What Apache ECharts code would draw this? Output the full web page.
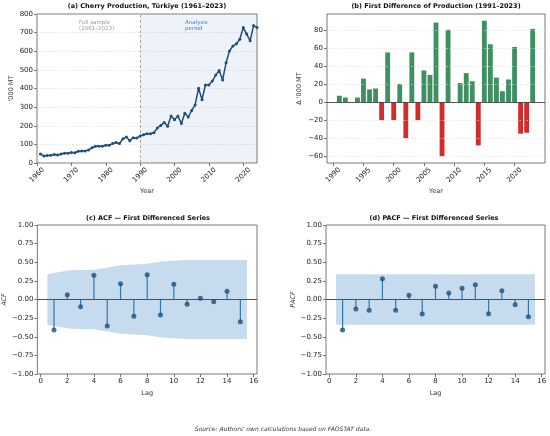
<!DOCTYPE html>
<html><head><meta charset="utf-8">
<script src="https://cdn.jsdelivr.net/npm/echarts@6/dist/echarts.min.js"></script>
<style>html,body{margin:0;padding:0;background:#fff}#c{width:550px;height:436px}</style>
</head><body><div id="c"></div><script>
// ---------- DATA ----------
const prodYears = [1961,1962,1963,1964,1965,1966,1967,1968,1969,1970,1971,1972,1973,1974,1975,1976,1977,1978,1979,1980,
  1981,1982,1983,1984,1985,1986,1987,1988,1989,1990,1991,1992,1993,1994,1995,1996,1997,1998,1999,2000,
  2001,2002,2003,2004,2005,2006,2007,2008,2009,2010,2011,2012,2013,2014,2015,2016,2017,2018,2019,2020,
  2021,2022,2023,2024];
const production = [48,38,40,42,45,43,48,52,53,57,55,63,65,65,70,82,90,90,90,95,
  95,105,110,105,130,140,120,136,134,145,152,157,157,162,188,202,217,197,252,232,
  252,212,267,247,282,312,402,340,419,419,440,472,497,446,538,602,628,640,664,727,
  692,656,738,727];
const diffYears = [1991,1992,1993,1994,1995,1996,1997,1998,1999,2000,2001,2002,2003,2004,2005,2006,2007,2008,2009,2010,
  2011,2012,2013,2014,2015,2016,2017,2018,2019,2020,2021,2022,2023];
const diffValues = [7,5,0,5,26,14,15,-20,55,-20,20,-40,55,-20,35,30,88,-60,80,0,
  21,32,23,-48,90,64,27,12,25,61,-35,-34,81];
const lags = [1,2,3,4,5,6,7,8,9,10,11,12,13,14,15];
const acfValues = [-0.41,0.065,-0.096,0.324,-0.356,0.21,-0.226,0.333,-0.208,0.204,-0.065,0.016,-0.03,0.11,-0.30];
const pacfValues = [-0.41,-0.128,-0.145,0.28,-0.145,0.056,-0.195,0.177,0.087,0.15,0.199,-0.19,0.119,-0.069,-0.23];
const acfBandX = [0.5,2,3,4,5,6,7,8,9,10,11,12,13,14,15.5];
const acfBandUpper = [0.34,0.39,0.395,0.40,0.43,0.46,0.47,0.48,0.51,0.52,0.53,0.53,0.53,0.53,0.53];
const acfBandLower = [-0.34,-0.39,-0.395,-0.40,-0.43,-0.46,-0.47,-0.48,-0.51,-0.52,-0.53,-0.53,-0.53,-0.53,-0.53];
const pacfBandX = [0.5,15.5];
const pacfBandUpper = [0.34,0.34];
const pacfBandLower = [-0.34,-0.34];
const ticksA = [1960,1970,1980,1990,2000,2010,2020];
const ticksB = [1990,1995,2000,2005,2010,2015,2020];
const ticksBY = [-60,-40,-20,0,20,40,60,80];
const ticksLag = [0,2,4,6,8,10,12,14,16];
const analysisStart = 1990;

// ---------- STYLE ----------
const FONT = 'DejaVu Sans';
const SPINE = '#555';
const BAR_W = 0.8;
const GREEN = '#3d9060', RED = '#d42b2b';
const minus = v => String(v).replace('-', '\u2212');

const chart = echarts.init(document.getElementById('c'), null, {renderer:'canvas'});

const gridBase = {show:true, borderColor:SPINE, borderWidth:0.8, backgroundColor:'transparent', containLabel:false};
const grids = [
  Object.assign({left:37, top:14, width:220, height:149}, gridBase),
  Object.assign({left:327, top:14, width:218, height:149}, gridBase),
  Object.assign({left:37, top:225, width:220, height:149}, gridBase),
  Object.assign({left:326, top:225, width:219, height:149}, gridBase)
];

const lbl = {color:'#222', fontSize:7, fontFamily:FONT};
const nameStyle = {color:'#333', fontSize:6.5, fontFamily:FONT};
const tick = {show:true, length:3, lineStyle:{color:SPINE, width:0.8}};

function xAx(i, min, max, ticks, rot, name, gap) {
  return {
    type:'value', gridIndex:i, min:min, max:max,
    axisLine:{show:false, onZero:false},
    axisTick:Object.assign({customValues:ticks}, tick),
    axisLabel:Object.assign({customValues:ticks, formatter:v=>minus(v)},
      rot ? {rotate:45, align:'center', verticalAlign:'middle', margin:12} : {margin:4}, lbl),
    splitLine:{show:false},
    name:name, nameLocation:'middle', nameGap:gap, nameTextStyle:nameStyle
  };
}
function yAx(i, o) {
  return Object.assign({
    type:'value', gridIndex:i,
    axisLine:{show:false, onZero:false},
    axisTick:tick,
    splitLine:{show:false},
    nameLocation:'middle', nameRotate:90, nameTextStyle:nameStyle
  }, o);
}

function bandRender(xs, up, lo) {
  return function(params, api) {
    if (params.dataIndex !== 0) return null;
    const pts = [];
    for (let k = 0; k < xs.length; k++) pts.push(api.coord([xs[k], up[k]]));
    for (let k = xs.length - 1; k >= 0; k--) pts.push(api.coord([xs[k], lo[k]]));
    return {type:'polygon', shape:{points:pts}, style:{fill:'#c6dcee'}};
  };
}
function stemRender(params, api) {
  const p0 = api.coord([api.value(0), 0]);
  const p1 = api.coord([api.value(0), api.value(1)]);
  return {type:'line', shape:{x1:p0[0], y1:p0[1], x2:p1[0], y2:p1[1]}, style:{stroke:'#2a7ab8', lineWidth:1.2}};
}
function zeroLine() {
  return {silent:true, symbol:'none', label:{show:false},
    lineStyle:{color:'#2c5985', width:1.2, type:'solid'}, data:[{yAxis:0}]};
}

const option = {
  animation:false,
  textStyle:{fontFamily:FONT},
  grid:grids,
  xAxis:[
    xAx(0, 1960, 2024, ticksA, true, 'Year', 25),
    xAx(1, 1988.96, 2025.04, ticksB, true, 'Year', 25),
    xAx(2, -0.25, 16.25, ticksLag, false, 'Lag', 16),
    xAx(3, -0.25, 16.25, ticksLag, false, 'Lag', 16)
  ],
  yAxis:[
    yAx(0, {min:0, max:800, interval:100, name:"'000 MT", nameGap:22,
      axisLabel:Object.assign({margin:4}, lbl),
      splitLine:{show:true, lineStyle:{color:'#d8d8d8', type:[1.5,2], width:0.7}}}),
    yAx(1, {min:-67.5, max:97.5, name:"\u0394 '000 MT", nameGap:24,
      axisTick:Object.assign({customValues:ticksBY}, tick),
      axisLabel:Object.assign({customValues:ticksBY, margin:4, formatter:v=>minus(v)}, lbl)}),
    yAx(2, {min:-1, max:1, interval:0.25, name:'ACF', nameGap:28,
      nameTextStyle:Object.assign({fontStyle:'italic'}, nameStyle),
      axisLabel:Object.assign({margin:4, formatter:v=>minus(v.toFixed(2))}, lbl)}),
    yAx(3, {min:-1, max:1, interval:0.25, name:'PACF', nameGap:28,
      nameTextStyle:Object.assign({fontStyle:'italic'}, nameStyle),
      axisLabel:Object.assign({margin:4, formatter:v=>minus(v.toFixed(2))}, lbl)})
  ],
  series:[
    {
      type:'line', xAxisIndex:0, yAxisIndex:0,
      data:prodYears.map((y,k)=>[y, production[k]]),
      symbol:'circle', symbolSize:3, showSymbol:true,
      lineStyle:{color:'#1f4e79', width:1.5}, itemStyle:{color:'#1f4e79'},
      z:5,
      markArea:{silent:true, itemStyle:{color:'rgba(70,120,200,0.09)'},
        data:[[{xAxis:analysisStart},{xAxis:prodYears[prodYears.length-1]}]]},
      markLine:{silent:true, symbol:'none', label:{show:false},
        lineStyle:{color:'#999', width:0.8, type:[3,2]}, data:[{xAxis:analysisStart}]}
    },
    {
      type:'custom', xAxisIndex:1, yAxisIndex:1,
      data:diffYears.map((y,k)=>[y, diffValues[k]]),
      encode:{x:0, y:1},
      renderItem:function(params, api){
        const x = api.value(0), v = api.value(1);
        const a = api.coord([x - BAR_W/2, v]);
        const b = api.coord([x + BAR_W/2, 0]);
        return {type:'rect', shape:{x:a[0], y:Math.min(a[1],b[1]), width:b[0]-a[0], height:Math.abs(b[1]-a[1])},
          style:{fill: v >= 0 ? GREEN : RED}};
      },
      z:3,
      markLine:{silent:true, symbol:'none', label:{show:false},
        data:ticksBY.filter(t=>t!==0).map(t=>({yAxis:t, lineStyle:{color:'#dcdcdc', width:0.7, type:[1.5,2]}}))
          .concat([{yAxis:0, lineStyle:{color:'#444', width:0.9, type:'solid'}}])}
    },
    {
      type:'custom', xAxisIndex:2, yAxisIndex:2, data:acfBandX.map((x,k)=>[x, acfBandUpper[k]]),
      encode:{x:0, y:1}, renderItem:bandRender(acfBandX, acfBandUpper, acfBandLower), z:1, silent:true
    },
    {
      type:'custom', xAxisIndex:2, yAxisIndex:2, data:lags.map((l,k)=>[l, acfValues[k]]),
      encode:{x:0, y:1}, renderItem:stemRender, z:3, markLine:zeroLine()
    },
    {
      type:'scatter', xAxisIndex:2, yAxisIndex:2, data:lags.map((l,k)=>[l, acfValues[k]]),
      symbolSize:5, itemStyle:{color:'#1f4e79'}, z:6
    },
    {
      type:'custom', xAxisIndex:3, yAxisIndex:3, data:pacfBandX.map((x,k)=>[x, pacfBandUpper[k]]),
      encode:{x:0, y:1}, renderItem:bandRender(pacfBandX, pacfBandUpper, pacfBandLower), z:1, silent:true
    },
    {
      type:'custom', xAxisIndex:3, yAxisIndex:3, data:lags.map((l,k)=>[l, pacfValues[k]]),
      encode:{x:0, y:1}, renderItem:stemRender, z:3, markLine:zeroLine()
    },
    {
      type:'scatter', xAxisIndex:3, yAxisIndex:3, data:lags.map((l,k)=>[l, pacfValues[k]]),
      symbolSize:5, itemStyle:{color:'#1f4e79'}, z:6
    }
  ],
  graphic:[
    {type:'text', x:147, y:3, style:{text:'(a) Cherry Production, T\u00fcrkiye (1961\u20132023)', align:'center', font:'bold 6.5px "DejaVu Sans"', fill:'#111'}},
    {type:'text', x:436, y:3, style:{text:'(b) First Difference of Production (1991\u20132023)', align:'center', font:'bold 6.5px "DejaVu Sans"', fill:'#111'}},
    {type:'text', x:148, y:215, style:{text:'(c) ACF \u2014 First Differenced Series', align:'center', font:'bold 6.5px "DejaVu Sans"', fill:'#111'}},
    {type:'text', x:434, y:215, style:{text:'(d) PACF \u2014 First Differenced Series', align:'center', font:'bold 6.5px "DejaVu Sans"', fill:'#111'}},
    {type:'text', x:79, y:19, style:{text:'Full sample\n(1961\u20132023)', align:'left', font:'5.5px "DejaVu Sans"', fill:'#999', lineHeight:6.5}},
    {type:'text', x:185, y:19, style:{text:'Analysis\nperiod', align:'left', font:'5.5px "DejaVu Sans"', fill:'#4a86c5', lineHeight:6.5}},
    {type:'text', x:283, y:426, style:{text:"Source: Authors' own calculations based on FAOSTAT data.", align:'center', font:'italic 6px "DejaVu Sans"', fill:'#333'}}
  ]
};
chart.setOption(option);
</script></body></html>
